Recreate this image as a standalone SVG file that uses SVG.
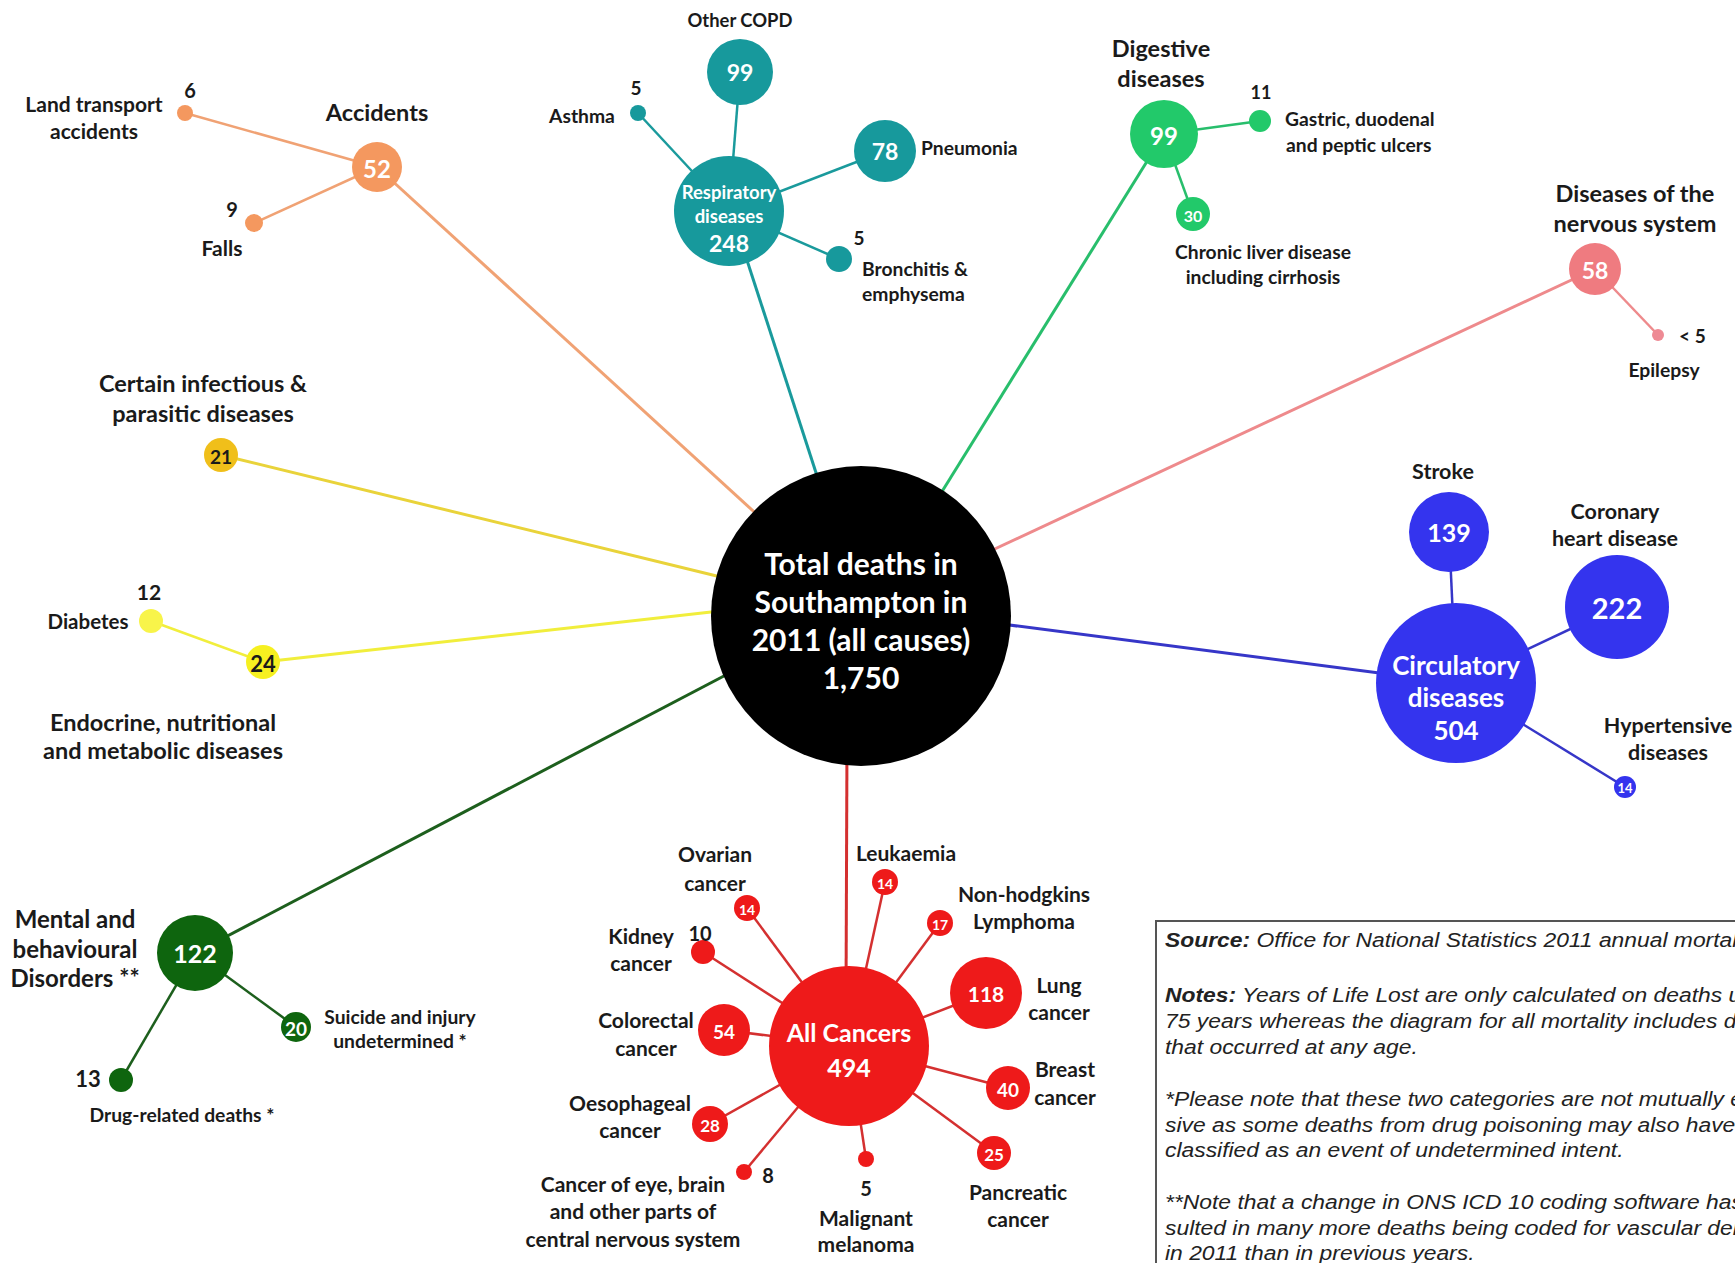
<svg xmlns="http://www.w3.org/2000/svg" width="1735" height="1263" viewBox="0 0 1735 1263">
<style>
text{font-family:Lato,"Open Sans","Liberation Sans",sans-serif;font-weight:bold;fill:#1a1a1a;text-anchor:middle;dominant-baseline:central}
.w{fill:#ffffff}
.s{text-anchor:start}
.cat{font-size:23.5px}
.sub{font-size:21px}
.sm{font-size:19.3px}
.note{font-family:"Liberation Sans",Arial,sans-serif;font-weight:normal;font-style:italic;font-size:20.5px;fill:#222;text-anchor:start;dominant-baseline:alphabetic}
.nb{font-weight:bold}
.c{stroke-width:3;fill:none}
.k{stroke-width:2.5;fill:none}
.acc{stroke:#F0A274}.resp{stroke:#1A9A9C}.dig{stroke:#28BE6C}.nerv{stroke:#EE8A8C}.circ{stroke:#3636C8}.inf{stroke:#E9D33A}.endo{stroke:#F1EE3C}.ment{stroke:#1D5F1D}.canc{stroke:#D43030}
.fa{fill:#F4985F}.fr{fill:#17999C}.fd{fill:#22C96A}.fn{fill:#EF7B80}.fc{fill:#3434EE}.fi{fill:#F0BF1A}.fe{fill:#F6F020}.fm{fill:#0E650E}.fk{fill:#EE1A1A}
</style>
<rect width="1735" height="1263" fill="#ffffff"/>
<g id="connectors">
<path class="c acc" d="M377,167 L763,520"/>
<path class="k acc" d="M185,113 L377,167"/>
<path class="k acc" d="M254,223 L377,167"/>
<path class="c resp" d="M731,211 L820,485"/>
<path class="k resp" d="M638,113 L729,211"/>
<path class="k resp" d="M740,72 L729,211"/>
<path class="k resp" d="M885,151 L729,211"/>
<path class="k resp" d="M839,259 L729,211"/>
<path class="c dig" d="M1164,134 L938,498"/>
<path class="k dig" d="M1260,121 L1164,134"/>
<path class="k dig" d="M1193,214 L1164,134"/>
<path class="c nerv" d="M1595,269 L984,554"/>
<path class="k nerv" d="M1658,335 L1595,269"/>
<path class="c circ" d="M1456,683 L994,623"/>
<path class="k circ" d="M1449,532 L1456,683"/>
<path class="k circ" d="M1617,607 L1456,683"/>
<path class="k circ" d="M1625,787 L1456,683"/>
<path class="c inf" d="M221,455 L729,579"/>
<path class="c endo" d="M263,662 L729,610"/>
<path class="k endo" d="M151,621 L263,662"/>
<path class="c ment" d="M195,953 L743,666"/>
<path class="k ment" d="M296,1027 L195,953"/>
<path class="k ment" d="M121,1080 L195,953"/>
<path class="c canc" d="M847,740 L846,1000"/>
<path class="k canc" d="M885,882 L849,1046"/>
<path class="k canc" d="M940,923 L849,1046"/>
<path class="k canc" d="M986,993 L849,1046"/>
<path class="k canc" d="M1008,1088 L849,1046"/>
<path class="k canc" d="M994,1153 L849,1046"/>
<path class="k canc" d="M866,1159 L849,1046"/>
<path class="k canc" d="M744,1172 L849,1046"/>
<path class="k canc" d="M710,1124 L849,1046"/>
<path class="k canc" d="M724,1030 L849,1046"/>
<path class="k canc" d="M703,952 L849,1046"/>
<path class="k canc" d="M747,908 L849,1046"/>
</g>
<g id="total">
<circle cx="861" cy="616" r="150" fill="#000"/>
<text class="w" x="861" y="563" font-size="30">Total deaths in</text>
<text class="w" x="861" y="601" font-size="30">Southampton in</text>
<text class="w" x="861" y="639" font-size="30">2011 (all causes)</text>
<text class="w" x="861" y="677" font-size="30">1,750</text>
</g>
<g id="accidents">
<circle class="fa" cx="377" cy="167" r="25"/>
<text class="w" x="377" y="168" font-size="24">52</text>
<text class="cat" x="377" y="112">Accidents</text>
</g>
<g id="land-transport">
<circle class="fa" cx="185" cy="113" r="8"/>
<text x="190" y="90" font-size="20">6</text>
<text class="sub" x="94" y="103">Land transport</text>
<text class="sub" x="94" y="130">accidents</text>
</g>
<g id="falls">
<circle class="fa" cx="254" cy="223" r="9"/>
<text x="232" y="209" font-size="20">9</text>
<text class="sub" x="222" y="247">Falls</text>
</g>
<g id="respiratory">
<circle class="fr" cx="729" cy="211" r="55"/>
<text class="w" x="729" y="192" font-size="18.5">Respiratory</text>
<text class="w" x="729" y="216" font-size="18.5">diseases</text>
<text class="w" x="729" y="243" font-size="23">248</text>
</g>
<g id="other-copd">
<circle class="fr" cx="740" cy="72" r="33"/>
<text class="w" x="740" y="72" font-size="23">99</text>
<text x="740" y="20" font-size="18.4">Other COPD</text>
</g>
<g id="asthma">
<circle class="fr" cx="638" cy="113" r="8"/>
<text x="636" y="87" font-size="19">5</text>
<text class="sm" x="582" y="115">Asthma</text>
</g>
<g id="pneumonia">
<circle class="fr" cx="885" cy="151" r="31"/>
<text class="w" x="885" y="151" font-size="23">78</text>
<text class="s sm" x="921" y="147">Pneumonia</text>
</g>
<g id="bronchitis">
<circle class="fr" cx="839" cy="259" r="13"/>
<text x="859" y="237" font-size="19">5</text>
<text class="s sm" x="862" y="268">Bronchitis &amp;</text>
<text class="s sm" x="862" y="293">emphysema</text>
</g>
<g id="digestive">
<circle class="fd" cx="1164" cy="134" r="34"/>
<text class="w" x="1164" y="135" font-size="24">99</text>
<text class="cat" x="1161" y="48">Digestive</text>
<text class="cat" x="1161" y="78">diseases</text>
</g>
<g id="ulcers">
<circle class="fd" cx="1260" cy="121" r="11"/>
<text x="1261" y="92" font-size="18">11</text>
<text class="s sm" x="1285" y="118">Gastric, duodenal</text>
<text class="s sm" x="1286" y="144">and peptic ulcers</text>
</g>
<g id="liver">
<circle class="fd" cx="1193" cy="214" r="17"/>
<text class="w" x="1193" y="215" font-size="16">30</text>
<text class="sm" x="1263" y="251">Chronic liver disease</text>
<text class="sm" x="1263" y="276">including cirrhosis</text>
</g>
<g id="nervous">
<circle class="fn" cx="1595" cy="269" r="26"/>
<text class="w" x="1595" y="270" font-size="23">58</text>
<text class="cat" x="1635" y="193">Diseases of the</text>
<text class="cat" x="1635" y="223">nervous system</text>
</g>
<g id="epilepsy">
<circle cx="1658" cy="335" r="6" fill="#EE8A94"/>
<text class="s" x="1679" y="335" font-size="19">&lt; 5</text>
<text class="sm" x="1664" y="369">Epilepsy</text>
</g>
<g id="circulatory">
<circle class="fc" cx="1456" cy="683" r="80"/>
<text class="w" x="1456" y="665" font-size="26">Circulatory</text>
<text class="w" x="1456" y="697" font-size="26">diseases</text>
<text class="w" x="1456" y="730" font-size="26">504</text>
</g>
<g id="stroke">
<circle class="fc" cx="1449" cy="532" r="40"/>
<text class="w" x="1449" y="532" font-size="25">139</text>
<text x="1443" y="471" font-size="21.5">Stroke</text>
</g>
<g id="coronary">
<circle class="fc" cx="1617" cy="607" r="52"/>
<text class="w" x="1617" y="607" font-size="29">222</text>
<text x="1615" y="511" font-size="21.5">Coronary</text>
<text x="1615" y="538" font-size="21.5">heart disease</text>
</g>
<g id="hypertensive">
<circle class="fc" cx="1625" cy="787" r="11"/>
<text class="w" x="1625" y="788" font-size="13">14</text>
<text x="1668" y="725" font-size="21.5">Hypertensive</text>
<text x="1668" y="752" font-size="21.5">diseases</text>
</g>
<g id="infectious">
<circle class="fi" cx="221" cy="455" r="17"/>
<text x="221" y="456" font-size="19">21</text>
<text class="cat" x="203" y="383">Certain infectious &amp;</text>
<text class="cat" x="203" y="413">parasitic diseases</text>
</g>
<g id="endocrine">
<circle class="fe" cx="263" cy="662" r="17"/>
<text x="263" y="663" font-size="22">24</text>
<text class="cat" x="163" y="722">Endocrine, nutritional</text>
<text class="cat" x="163" y="750">and metabolic diseases</text>
</g>
<g id="diabetes">
<circle cx="151" cy="621" r="12" fill="#F8F44A"/>
<text x="149" y="591" font-size="21">12</text>
<text x="88" y="621" font-size="20.5">Diabetes</text>
</g>
<g id="mental">
<circle class="fm" cx="195" cy="953" r="38"/>
<text class="w" x="195" y="953" font-size="25">122</text>
<text x="75" y="918" font-size="24">Mental and</text>
<text x="75" y="948" font-size="24">behavioural</text>
<text x="75" y="977" font-size="24">Disorders **</text>
</g>
<g id="suicide">
<circle class="fm" cx="296" cy="1027" r="15"/>
<text class="w" x="296" y="1028" font-size="19">20</text>
<text class="sm" x="400" y="1016">Suicide and injury</text>
<text class="sm" x="400" y="1040">undetermined *</text>
</g>
<g id="drug">
<circle class="fm" cx="121" cy="1080" r="12"/>
<text x="88" y="1078" font-size="22">13</text>
<text class="sm" x="182" y="1114">Drug-related deaths *</text>
</g>
<g id="cancers">
<circle class="fk" cx="849" cy="1046" r="80"/>
<text class="w" x="849" y="1032" font-size="25">All Cancers</text>
<text class="w" x="849" y="1067" font-size="25">494</text>
</g>
<g id="leukaemia">
<circle class="fk" cx="885" cy="882" r="13"/>
<text class="w" x="885" y="883" font-size="14">14</text>
<text class="sub" x="906" y="852">Leukaemia</text>
</g>
<g id="nhl">
<circle class="fk" cx="940" cy="923" r="13"/>
<text class="w" x="940" y="924" font-size="14">17</text>
<text class="sub" x="1024" y="893">Non-hodgkins</text>
<text class="sub" x="1024" y="920">Lymphoma</text>
</g>
<g id="lung">
<circle class="fk" cx="986" cy="993" r="36"/>
<text class="w" x="986" y="993" font-size="21">118</text>
<text class="sub" x="1059" y="984">Lung</text>
<text class="sub" x="1059" y="1011">cancer</text>
</g>
<g id="breast">
<circle class="fk" cx="1008" cy="1088" r="22"/>
<text class="w" x="1008" y="1089" font-size="19">40</text>
<text class="sub" x="1065" y="1068">Breast</text>
<text class="sub" x="1065" y="1096">cancer</text>
</g>
<g id="pancreatic">
<circle class="fk" cx="994" cy="1153" r="17"/>
<text class="w" x="994" y="1154" font-size="17">25</text>
<text class="sub" x="1018" y="1191">Pancreatic</text>
<text class="sub" x="1018" y="1218">cancer</text>
</g>
<g id="melanoma">
<circle class="fk" cx="866" cy="1159" r="8"/>
<text x="866" y="1188" font-size="20">5</text>
<text class="sub" x="866" y="1217">Malignant</text>
<text class="sub" x="866" y="1243">melanoma</text>
</g>
<g id="eye-brain">
<circle class="fk" cx="744" cy="1172" r="8"/>
<text x="768" y="1175" font-size="20">8</text>
<text class="sub" x="633" y="1183">Cancer of eye, brain</text>
<text class="sub" x="633" y="1210">and other parts of</text>
<text class="sub" x="633" y="1238">central nervous system</text>
</g>
<g id="oesophageal">
<circle class="fk" cx="710" cy="1124" r="18"/>
<text class="w" x="710" y="1125" font-size="17">28</text>
<text class="sub" x="630" y="1102">Oesophageal</text>
<text class="sub" x="630" y="1129">cancer</text>
</g>
<g id="colorectal">
<circle class="fk" cx="724" cy="1030" r="26"/>
<text class="w" x="724" y="1031" font-size="19">54</text>
<text class="sub" x="646" y="1019">Colorectal</text>
<text class="sub" x="646" y="1047">cancer</text>
</g>
<g id="kidney">
<circle class="fk" cx="703" cy="952" r="12"/>
<text x="700" y="933" font-size="20">10</text>
<text class="sub" x="641" y="935">Kidney</text>
<text class="sub" x="641" y="962">cancer</text>
</g>
<g id="ovarian">
<circle class="fk" cx="747" cy="908" r="13"/>
<text class="w" x="747" y="909" font-size="14">14</text>
<text class="sub" x="715" y="853">Ovarian</text>
<text class="sub" x="715" y="882">cancer</text>
</g>
<g id="notes">
<rect x="1156" y="921" width="620" height="400" fill="#fff" stroke="#555" stroke-width="2"/>
<g transform="translate(1165,0) scale(1.115,1)">
<text class="note" x="0" y="947"><tspan class="nb">Source:</tspan> Office for National Statistics 2011 annual mortal</text>
<text class="note" x="0" y="1002"><tspan class="nb">Notes:</tspan> Years of Life Lost are only calculated on deaths u</text>
<text class="note" x="0" y="1028">75 years whereas the diagram for all mortality includes d</text>
<text class="note" x="0" y="1054">that occurred at any age.</text>
<text class="note" x="0" y="1106">*Please note that these two categories are not mutually e</text>
<text class="note" x="0" y="1132">sive as some deaths from drug poisoning may also have</text>
<text class="note" x="0" y="1157">classified as an event of undetermined intent.</text>
<text class="note" x="0" y="1209">**Note that a change in ONS ICD 10 coding software has</text>
<text class="note" x="0" y="1235">sulted in many more deaths being coded for vascular der</text>
<text class="note" x="0" y="1260">in 2011 than in previous years.</text>
</g>
</g>
</svg>
